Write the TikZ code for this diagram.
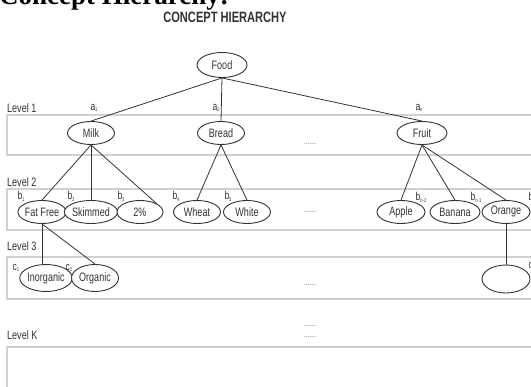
\documentclass[tikz,border=0pt]{standalone}
\usepackage{fontspec}
\setmainfont{Liberation Sans}[FakeStretch=0.74]
\newfontfamily\titlefont{Liberation Serif}
\usetikzlibrary{shapes.geometric}
\newcommand\sbs[2]{#1\raisebox{-1.8pt}{\fontsize{5.5}{5.5}\selectfont #2}}
\definecolor{boxgray}{gray}{0.82}
\definecolor{ink}{gray}{0.2}
\tikzset{
  lvbox/.style={draw=boxgray, line width=1.3pt},
  concept/.style={ellipse, draw=ink, line width=0.9pt, fill=white, inner sep=0pt,
    minimum width=47pt, minimum height=23pt, font=\fontsize{12.2}{12.2}\selectfont, text=ink},
  lvlabel/.style={anchor=west, inner sep=0pt, font=\fontsize{12.2}{12.2}\selectfont, text=ink},
  sublabel/.style={inner sep=0pt, font=\fontsize{11.5}{11.5}\selectfont, text=ink},
  dots/.style={inner sep=0pt, font=\fontsize{10}{10}\selectfont, text=gray},
  edge/.style={draw=ink, line width=0.8pt}
}
\begin{document}
\begin{tikzpicture}[x=1pt,y=-1pt]
\useasboundingbox (0,0) rectangle (531,387);
\clip (0,0) rectangle (531,387);
% titles
\node[anchor=base west, inner sep=0pt, font=\titlefont\bfseries\fontsize{27}{27}\selectfont] (title) at (-1,5) {Concept Hierarchy:};
\node[inner sep=0pt, font=\bfseries\fontsize{15}{15}\selectfont, text=ink] (sub) at (225,17) {CONCEPT HIERARCHY};
% level boxes
\draw[lvbox] (7,115) rectangle (545,155);
\draw[lvbox] (7,189) rectangle (545,230);
\draw[lvbox] (7,257) rectangle (545,299);
\draw[lvbox] (7,347) rectangle (545,400);
% level labels
\node[lvlabel] (l1) at (7,108) {Level 1};
\node[lvlabel] (l2) at (7,182) {Level 2};
\node[lvlabel] (l3) at (7,246) {Level 3};
\node[lvlabel] (lk) at (7,335) {Level K};
% edges (drawn under the ellipses)
\coordinate (foodS) at (221,77);
\coordinate (milkS) at (90,145);
\coordinate (breadS) at (220,145);
\coordinate (fruitS) at (423,145);
\coordinate (ffS) at (41,223);
\coordinate (orS) at (506,223);
% concepts
\node[concept, minimum width=50pt, minimum height=25pt] (food) at (222,65) {Food};
\node[concept] (milk) at (91,133) {Milk};
\node[concept] (bread) at (221,133) {Bread};
\node[concept, minimum width=50pt] (fruit) at (422,133) {Fruit};
\node[concept, minimum width=45pt] (fatfree) at (42,212) {Fat Free};
\node[concept, minimum width=45pt] (skimmed) at (91,212) {Skimmed};
\node[concept, minimum width=46pt] (two) at (140,212) {2\%};
\node[concept, minimum width=47pt] (wheat) at (197,212) {Wheat};
\node[concept, minimum width=47pt] (white) at (247,212) {White};
\node[concept, minimum width=48pt] (apple) at (401,212) {Apple};
\node[concept, minimum width=50pt] (banana) at (455,212) {Banana};
\node[concept, minimum width=48pt] (orange) at (506,212) {Orange};
\node[concept, minimum width=52pt, minimum height=27pt] (inorg) at (46,278) {Inorganic};
\node[concept, minimum width=47pt, minimum height=27pt] (org) at (95,278) {Organic};
\node[concept, minimum width=48pt, minimum height=28pt] (blank) at (506,279) {};
% edges
\draw[edge] (food.south) -- (milk.north);
\draw[edge] (food.south) -- (bread.north);
\draw[edge] (food.south) -- (fruit.north);
\draw[edge] (milk.south) -- (fatfree.north);
\draw[edge] (milk.south) -- (skimmed.north);
\draw[edge] (milk.south) -- (two.north east);
\draw[edge] (bread.south) -- (wheat.north);
\draw[edge] (bread.south) -- (white.north);
\draw[edge] (fruit.south) -- (apple.north);
\draw[edge] (fruit.south) -- (banana.north);
\draw[edge] (fruit.south) -- (orange.north);
\draw[edge] (fatfree.south) -- (inorg.north -| fatfree.south);
\draw[edge] (fatfree.south) -- (org.north);
\draw[edge] (orange.south) -- (blank.north);
% sub labels
\node[sublabel] (a1) at (94,108) {\sbs{a}{1}};
\node[sublabel] (a2) at (216,108) {\sbs{a}{2}};
\node[sublabel] (an) at (419,108) {\sbs{a}{n}};
\node[sublabel] (b1) at (21,196) {\sbs{b}{1}};
\node[sublabel] (b2) at (71,196) {\sbs{b}{2}};
\node[sublabel] (b3) at (121,196) {\sbs{b}{3}};
\node[sublabel] (b4) at (176,196) {\sbs{b}{4}};
\node[sublabel] (b5) at (228,196) {\sbs{b}{5}};
\node[sublabel] (bn2) at (421,197) {\sbs{b}{n-2}};
\node[sublabel] (bn1) at (476,197) {\sbs{b}{n-1}};
\node[sublabel] (bn) at (532,197) {\sbs{b}{n}};
\node[sublabel] (c1) at (16,268) {\sbs{c}{1}};
\node[sublabel] (c2) at (69,268) {\sbs{c}{2}};
\node[sublabel] (cn) at (532,266) {\sbs{c}{n}};
% dots
\node[dots] (d1) at (310,144) {......};
\node[dots] (d2) at (310,212) {......};
\node[dots] (d3) at (310,285) {......};
\node[dots] (d4) at (310,326) {......};
\node[dots] (d5) at (310,337) {......};
\end{tikzpicture}
\end{document}
